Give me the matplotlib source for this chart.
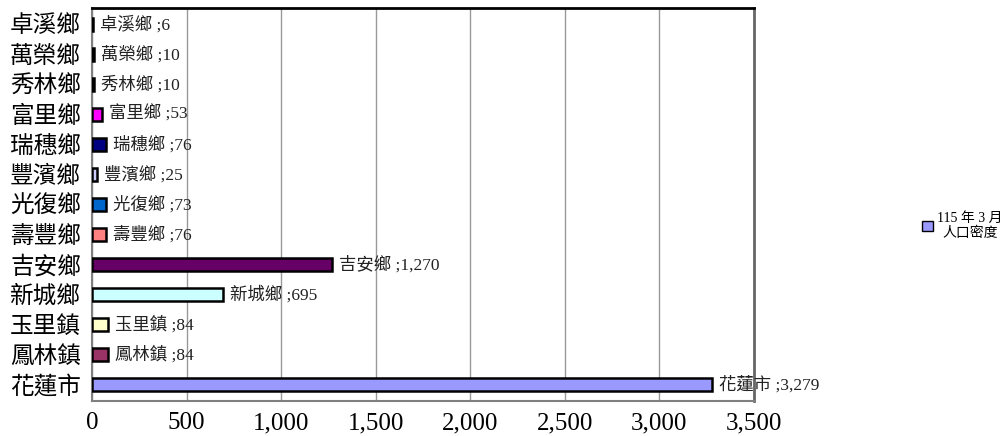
import matplotlib
matplotlib.use("Agg")
import matplotlib.pyplot as plt
from matplotlib.patches import Patch

plt.rcParams['font.family'] = ['Liberation Serif', 'Noto Sans CJK TC', 'DejaVu Sans']

categories = ['花蓮市', '鳳林鎮', '玉里鎮', '新城鄉', '吉安鄉', '壽豐鄉', '光復鄉',
              '豐濱鄉', '瑞穗鄉', '富里鄉', '秀林鄉', '萬榮鄉', '卓溪鄉']
values = [3279, 84, 84, 695, 1270, 76, 73, 25, 76, 53, 10, 10, 6]
colors = ['#9999FF', '#993366', '#FFFFCC', '#CCFFFF', '#660066', '#FF8080', '#0066CC',
          '#CCCCFF', '#000080', '#FF00FF', '#FFFF00', '#00FFFF', '#800080']
xticks = [0, 500, 1000, 1500, 2000, 2500, 3000, 3500]
legend_label = '115 年 3 月\n人口密度'

fig = plt.figure(figsize=(10.08, 4.36), dpi=100)
ax = fig.add_axes([0.0913, 0.0803, 0.6567, 0.9014])

ypos = list(range(len(categories)))
ax.barh(ypos, values, height=0.42, color=colors, edgecolor='black', linewidth=1.8, zorder=3)

for y, v, c in zip(ypos, values, categories):
    ax.annotate(f'{c} ;{v:,}', xy=(v, y), xytext=(5, 0), textcoords='offset points',
                va='center', ha='left', fontsize=12.5, color='#222222', zorder=4)

ax.set_xlim(0, 3500)
ax.set_ylim(-0.55, len(categories) - 0.45)
ax.set_xticks(xticks)
ax.set_xticklabels([f'{t:,}' for t in xticks], fontsize=18)
ax.set_yticks(ypos)
ax.set_yticklabels(categories, fontsize=17)
ax.tick_params(axis='both', length=0)
ax.tick_params(axis='y', pad=8)
ax.tick_params(axis='x', pad=8)
ax.xaxis.grid(True, color='#999999', linewidth=1.0, zorder=0)

for s in ['left', 'bottom']:
    ax.spines[s].set_color('#808080')
    ax.spines[s].set_linewidth(1.5)
ax.spines['right'].set_color('#666666')
ax.spines['right'].set_linewidth(2)
ax.spines['top'].set_color('black')
ax.spines['top'].set_linewidth(2)

handles = [Patch(facecolor=colors[0], edgecolor='black', linewidth=1)]
leg = fig.legend(handles, [legend_label], loc='center left', bbox_to_anchor=(0.908, 0.482),
                 frameon=False, handlelength=0.8, handleheight=0.8,
                 handletextpad=0.3, borderpad=0, labelspacing=0,
                 prop={'size': 10})
for t in leg.get_texts():
    t.set_multialignment('center')

fig.savefig('out.png', dpi=100)
